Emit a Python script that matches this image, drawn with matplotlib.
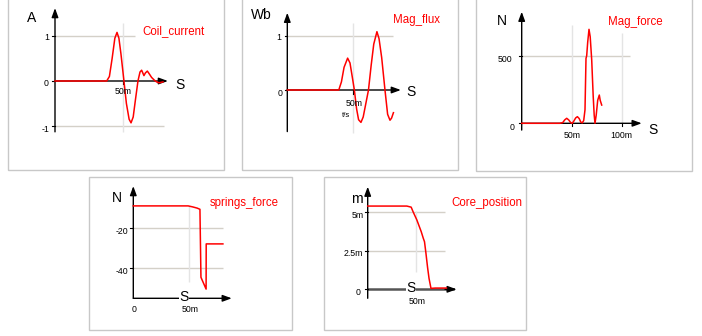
import matplotlib
matplotlib.use('Agg')
import matplotlib.pyplot as plt
from matplotlib.patches import Rectangle

plt.rcParams['font.family'] = ['Liberation Sans', 'DejaVu Sans']

# ---- data (time in ms) ----
coil_t = [0, 38, 40, 42, 44, 45.6, 47, 48.5, 50.7, 52.5, 54.5, 55.9, 57.5, 59, 61,
          62.5, 63.7, 65.4, 66.5, 67.9, 69.5, 71, 73, 74.7, 76.5, 78, 79.4]
coil_i = [0, 0, 0.1, 0.5, 0.95, 1.08, 0.95, 0.6, 0, -0.5, -0.85, -0.93, -0.8, -0.45, 0,
          0.2, 0.24, 0.12, 0.18, 0.22, 0.15, 0.08, 0.02, -0.02, -0.04, -0.03, -0.02]

flux_t = [0, 39, 41, 43, 45.7, 47.5, 49.5, 50.8, 52.5, 54, 55.8, 57.5, 59.5, 61.5,
          63.5, 65.5, 67.9, 69.5, 71.5, 74, 76, 77.8, 79, 80.4]
flux_wb = [0, 0, 0.15, 0.42, 0.59, 0.5, 0.2, 0, -0.35, -0.55, -0.6, -0.5, -0.25, 0,
           0.45, 0.85, 1.08, 0.95, 0.6, 0, -0.45, -0.56, -0.52, -0.42]

force_t = [0, 38, 41, 43, 45, 47, 49, 50.5, 52, 54, 55.7, 57.5, 59, 60.5, 62, 63.3,
           64.3, 65, 66, 67.3, 68.5, 70, 71.5, 72.5, 73.3, 74.5, 76, 77.6, 78.5, 80]
force_n = [0, 0, 5, 25, 37, 25, 5, 0, 15, 40, 49, 35, 10, 3, 20, 100,
           480, 500, 600, 695, 640, 470, 200, 60, 0, 60, 170, 209, 170, 135]

spring_t = [0, 49, 53, 57, 59.5, 60.4, 65, 65.1, 80]
spring_n = [-8.8, -8.8, -9.3, -9.9, -10.5, -44.5, -50.4, -27.8, -27.8]

core_t = [0, 40.5, 45, 47, 50.9, 55.4, 57.5, 58.8, 60.3, 62, 63.5, 65.5, 70, 81.5]
core_mm = [5.37, 5.37, 5.3, 5.0, 4.47, 3.72, 3.3, 3.07, 2.32, 1.4, 0.7, 0.06, 0.08, 0.08]

W, H = 702, 336
RED = '#ff0000'
GRID = '#d4d0c8'
fig = plt.figure(figsize=(W / 100, H / 100), dpi=100)


def box(l, t, r, b):
    fig.add_artist(Rectangle((l / W, 1 - b / H), (r - l) / W, (b - t) / H,
                             transform=fig.transFigure, fill=False,
                             edgecolor='#c8c8c8', lw=1))


def txt(x, y, s, size=6.3, color='black', ha='center', **kw):
    fig.text(x / W, 1 - y / H, s, fontsize=size, color=color, ha=ha, va='center', **kw)


def panel(left, top, right, bottom, x0, y0, sx, sy):
    ax = fig.add_axes([left / W, 1 - bottom / H, (right - left) / W, (bottom - top) / H])
    ax.set_xlim((left - x0) / sx, (right - x0) / sx)
    ax.set_ylim((y0 - bottom) / sy, (y0 - top) / sy)
    ax.axis('off')
    return ax


def arrow(ax, p0, p1, color='black', lw=1):
    ax.annotate('', xy=p1, xytext=p0, annotation_clip=False,
                arrowprops=dict(arrowstyle='-|>,head_length=0.6,head_width=0.22',
                                mutation_scale=9, color=color, lw=lw,
                                shrinkA=0, shrinkB=0))


for b in [(8, -2, 224, 170), (242, -2, 458, 170), (476, -2, 692, 171),
          (89, 177, 292, 330), (324, 177, 526, 330)]:
    box(*b)

TITLE = 8.3
LETTER = 10

# ---- Coil_current ----
ax = panel(30, 5, 190, 140, 55, 81, 1.36, 45)
ax.hlines([1], 0, 58.8, color=GRID, lw=1)
ax.hlines([-1], 0, 80, color=GRID, lw=1)
ax.vlines([50], -1.13, 1.29, color='#e4e4e4', lw=1)
arrow(ax, (0, -1.13), (0, 1.62))
arrow(ax, (0, 0), (83, 0))
for v in [1, 0, -1]:
    ax.plot([-2.2, 0], [v, v], color='black', lw=0.8)
ax.plot([50, 50], [0, -0.07], color='black', lw=0.8)
ax.plot(coil_t, coil_i, color=RED, lw=1.1, zorder=5)
txt(32, 18, 'A', size=LETTER)
txt(180, 85, 'S', size=LETTER)
txt(142, 31, 'Coil_current', size=TITLE, color=RED, ha='left')
txt(49, 38, '1', ha='right')
txt(49, 84, '0', ha='right')
txt(49, 129, '-1', ha='right')
txt(123, 92, '50m')

# ---- Mag_flux ----
ax = panel(262, 5, 420, 140, 287.3, 90, 1.32, 54)
ax.hlines([1], 0, 80, color=GRID, lw=1)
ax.vlines([50], -0.8, 1.24, color='#e4e4e4', lw=1)
arrow(ax, (0, -0.77), (0, 1.43))
arrow(ax, (0, 0), (86, 0))
for v in [1, 0]:
    ax.plot([-1.8, 0], [v, v], color='black', lw=0.8)
ax.plot([50, 50], [0, -0.08], color='black', lw=0.8)
ax.plot(flux_t, flux_wb, color=RED, lw=1.1, zorder=5)
txt(261, 15, 'Wb', size=LETTER)
txt(411, 92, 'S', size=LETTER)
txt(393, 20, 'Mag_flux', size=TITLE, color=RED, ha='left')
txt(281, 37, '1', ha='right')
txt(282, 93, '0', ha='right')
txt(354, 103, '50m')
txt(346, 115.5, 't/s', size=5.5)

# ---- Mag_force ----
ax = panel(500, 5, 660, 140, 521.7, 123.3, 1.0, 0.1352)
ax.hlines([500], 0, 108, color=GRID, lw=1)
ax.vlines([50], 0, 727, color='#e4e4e4', lw=1)
ax.vlines([100], 0, 668, color='#e4e4e4', lw=1)
arrow(ax, (0, -50), (0, 825))
arrow(ax, (0, 0), (120, 0))
for v in [500, 0]:
    ax.plot([-2.5, 0], [v, v], color='black', lw=0.8)
for v in [50, 100]:
    ax.plot([v, v], [0, -18], color='black', lw=0.8)
ax.plot(force_t, force_n, color=RED, lw=1.1, zorder=5)
txt(502, 21, 'N', size=LETTER)
txt(653, 130, 'S', size=LETTER)
txt(608, 22, 'Mag_force', size=TITLE, color=RED, ha='left')
txt(512, 59, '500', ha='right')
txt(514, 127, '0', ha='right')
txt(571.7, 136, '50m')
txt(621.7, 136, '100m')

# ---- springs_force ----
ax = panel(110, 180, 245, 305, 133.3, 188.3, 1.12, 2)
ax.hlines([-20, -40], 0, 80, color=GRID, lw=1)
ax.vlines([50], -46.7, -8.85, color='#e4e4e4', lw=1)
arrow(ax, (0, -55), (0, 1.1))
arrow(ax, (0, -55), (87.9, -55))
for v in [-20, -40]:
    ax.plot([-2.5, 0], [v, v], color='black', lw=0.8)
ax.plot(spring_t, spring_n, color=RED, lw=1.1, zorder=5)
txt(116.7, 198.5, 'N', size=LETTER)
txt(210, 203, 'springs_force', size=TITLE, color=RED, ha='left')
txt(128.3, 231.5, '-20', ha='right')
txt(128.3, 271.7, '-40', ha='right')
txt(133.7, 310, '0')
txt(190.3, 310, '50m')
txt(184, 297, 'S', size=LETTER,
    bbox=dict(facecolor='white', edgecolor='none', pad=0.6), zorder=10)

# ---- Core_position ----
ax = panel(345, 180, 470, 305, 367.7, 289.3, 0.966, 15.5)
ax.hlines([5, 2.5], 0, 80, color=GRID, lw=1)
ax.vlines([50], 1.1, 5.03, color='#e4e4e4', lw=1)
arrow(ax, (0, -0.58), (0, 6.62))
ax.plot([0, 88], [0, 0], color='#555555', lw=1.8)
arrow(ax, (80, 0), (92.1, 0))
for v in [5, 2.5, 0]:
    ax.plot([-2.8, 0], [v, v], color='black', lw=0.8)
ax.plot(core_t, core_mm, color=RED, lw=1.1, zorder=5)
txt(356.7, 199, 'm', size=LETTER)
txt(451, 203, 'Core_position', size=TITLE, color=RED, ha='left')
txt(363.3, 215, '5m', ha='right')
txt(363.3, 253.3, '2.5m', ha='right')
txt(361, 292.7, '0', ha='right')
txt(417.3, 301, '50m', zorder=11)
txt(411, 288, 'S', size=LETTER,
    bbox=dict(facecolor='white', edgecolor='none', pad=0.4), zorder=10)

fig.savefig('out.png', dpi=100)
